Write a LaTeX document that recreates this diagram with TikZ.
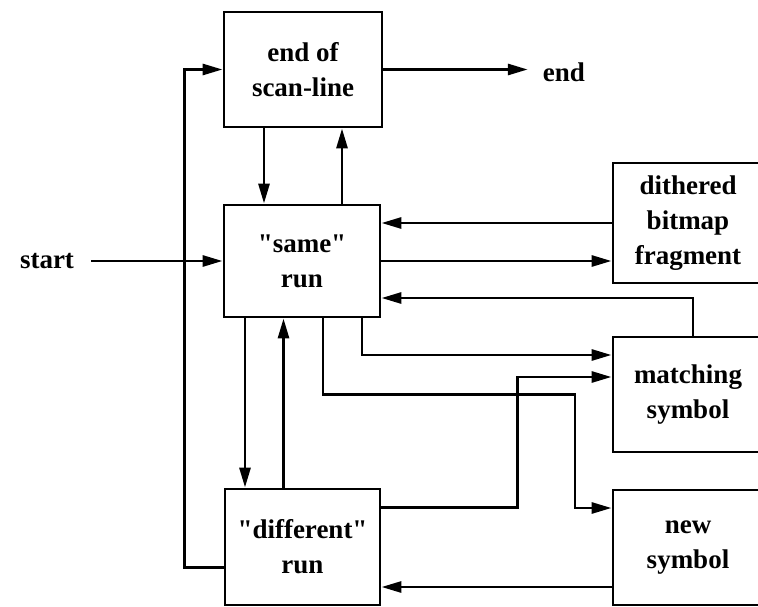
\documentclass[tikz,border=0pt]{standalone}
\usepackage{fontspec}
\setmainfont{Liberation Serif}[Ligatures=TeXOff]
\usetikzlibrary{arrows.meta}
\begin{document}
\begin{tikzpicture}[x=1pt,y=-1pt,
  txt/.style={font=\fontsize{27}{35}\selectfont\bfseries},
  box/.style={txt, draw, line width=2.9pt, align=center, inner sep=0pt},
  lbl/.style={txt, inner sep=0pt},
  arr/.style={line width=2.9pt, -{Triangle[length=20pt,width=11pt]}}]
\useasboundingbox (0,0) rectangle (758,607);
\clip (0,0) rectangle (758,607);

% processing states
\node[box, minimum width=158pt, minimum height=115pt] (endscan) at (303,69.5) {end of\\scan-line};
\node[box, minimum width=156pt, minimum height=112pt] (same) at (302,261) {"same"\\run};
\node[box, minimum width=155pt, minimum height=116pt] (diff) at (302.5,547) {"different"\\run};

% coding units on the right (open towards the edge)
\node[box, minimum width=150pt, minimum height=120pt] (dith) at (688,223) {dithered\\bitmap\\fragment};
\node[box, minimum width=150pt, minimum height=115pt] (match) at (688,394.5) {matching\\symbol};
\node[box, minimum width=150pt, minimum height=115pt] (new) at (688,547.5) {new\\symbol};

% terminals
\node[lbl] (start) at (47,261) {start};
\node[lbl] (endl) at (564,72) {end};

% connectors
\draw[arr, shorten <=17pt] (start.east) -- (same.west);
\draw[arr, shorten >=15pt] (endscan.east) -- (endscan.east -| endl.west);

\draw[arr] ([xshift=-39pt]endscan.south) -- ([xshift=-39pt]endscan.south |- same.north);
\draw[arr] ([xshift=40pt]same.north) -- ([xshift=40pt]same.north |- endscan.south);

\draw[arr] (dith.west) -- (dith.west -| same.east);
\draw[arr] (same.east) -- (same.east -| dith.west);

\draw[arr] ([xshift=5pt]match.north) |- ([yshift=-37pt]same.east);
\draw[arr] ([xshift=60pt]same.south) |- ([yshift=39.5pt]match.west);
\draw[arr] ([xshift=21pt]same.south) -- ++(0,76) -- ++(252,0) |- ([yshift=39.5pt]new.west);

\draw[arr] ([yshift=39.5pt]diff.east) -- ++(136,0) |- ([yshift=17.5pt]match.west);
\draw[arr] ([yshift=-39.5pt]new.west) -- ([yshift=-39.5pt]new.west -| diff.east);

\draw[arr] ([xshift=-57pt]same.south) -- ([xshift=-57pt]same.south |- diff.north);
\draw[arr] ([xshift=-19pt]diff.north) -- ([xshift=-19pt]diff.north |- same.south);

\draw[arr] ([yshift=-20.5pt]diff.west) -- ++(-39,0) |- (endscan.west);
\end{tikzpicture}
\end{document}
